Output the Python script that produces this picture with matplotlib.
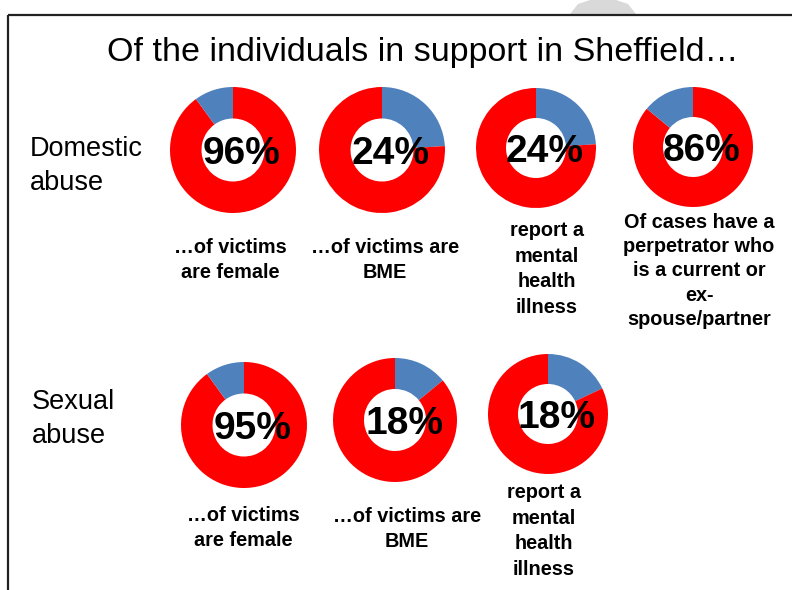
import matplotlib
matplotlib.use("Agg")
import matplotlib.pyplot as plt
from matplotlib.patches import Polygon

plt.rcParams['font.family'] = ['Liberation Sans', 'DejaVu Sans']

# ---- data ----
pct_labels = ["96%", "24%", "24%", "86%", "95%", "18%", "18%"]
blue_share = [10, 24, 24, 14, 10, 14, 18]          # share drawn in blue
blue_first = [False, True, True, False, False, True, True]
captions = [
    "…of victims\nare female",
    "…of victims are\nBME",
    "report a\nmental\nhealth\nillness",
    "Of cases have a\nperpetrator who\nis a current or\nex-\nspouse/partner",
    "…of victims\nare female",
    "…of victims are\nBME",
    "report a\nmental\nhealth\nillness",
]
row_labels = ["Domestic\nabuse", "Sexual\nabuse"]
title = "Of the individuals in support in Sheffield…"

# ---- layout (pixels) ----
W, H = 792, 590
centers = [(233, 150, 63), (382, 150, 63), (536, 148, 60), (693, 147, 60),
           (244, 425, 63), (395, 420, 62), (548, 414, 60)]
caption_pos = [(230, 260), (385, 260), (547, 269), (699, 271),
               (243, 528), (407, 529), (544, 531)]
caption_ls = [1.45, 1.45, 1.45, 1.35, 1.45, 1.45, 1.45]
row_pos = [(30, 166), (32, 419)]

RED = "#FF0000"
BLUE = "#4F81BD"

fig = plt.figure(figsize=(W / 100, H / 100), dpi=100)
fig.patch.set_facecolor("white")

# overlay axes in pixel coords
ov = fig.add_axes([0, 0, 1, 1])
ov.set_xlim(0, W)
ov.set_ylim(H, 0)
ov.axis("off")

# frame
ov.plot([8, W], [15, 15], color="#222222", lw=1.6, solid_capstyle="butt")
ov.plot([8, 8], [15, H], color="#222222", lw=1.6, solid_capstyle="butt")
# gray decoration at top
ov.add_patch(Polygon([(570, 14), (578, 4), (590, 0), (616, 0), (628, 4), (636, 14)],
                     closed=True, facecolor="#d9d9d9", edgecolor="none", zorder=0))

ov.text(423, 61, title, ha="center", va="baseline", fontsize=24.5, color="black")

for (x, y), lab in zip(row_pos, row_labels):
    ov.text(x, y, lab, ha="left", va="center", fontsize=19.5, linespacing=1.4)

for (x, y), cap, ls in zip(caption_pos, captions, caption_ls):
    ov.text(x, y, cap, ha="center", va="center", fontsize=14.3, fontweight="bold",
            linespacing=ls)

for (cx, cy, r), b, bf, lab in zip(centers, blue_share, blue_first, pct_labels):
    ax = fig.add_axes([(cx - r) / W, 1 - (cy + r) / H, 2 * r / W, 2 * r / H])
    if bf:
        vals, cols = [b, 100 - b], [BLUE, RED]
    else:
        vals, cols = [100 - b, b], [RED, BLUE]
    ax.pie(vals, colors=cols, startangle=90, counterclock=False, radius=1.0,
           wedgeprops=dict(width=0.5, edgecolor="none"))
    ax.set_xlim(-1, 1)
    ax.set_ylim(-1, 1)
    ax.set_aspect("equal")
    ax.axis("off")
    ov.text(cx + 9, cy + 4, lab, ha="center", va="center", fontsize=28,
            fontweight="bold", color="black", zorder=10)

# ensure overlay text on top of pies
ov.set_zorder(5)
ov.patch.set_alpha(0)

fig.savefig("out.png", dpi=100, facecolor="white")
